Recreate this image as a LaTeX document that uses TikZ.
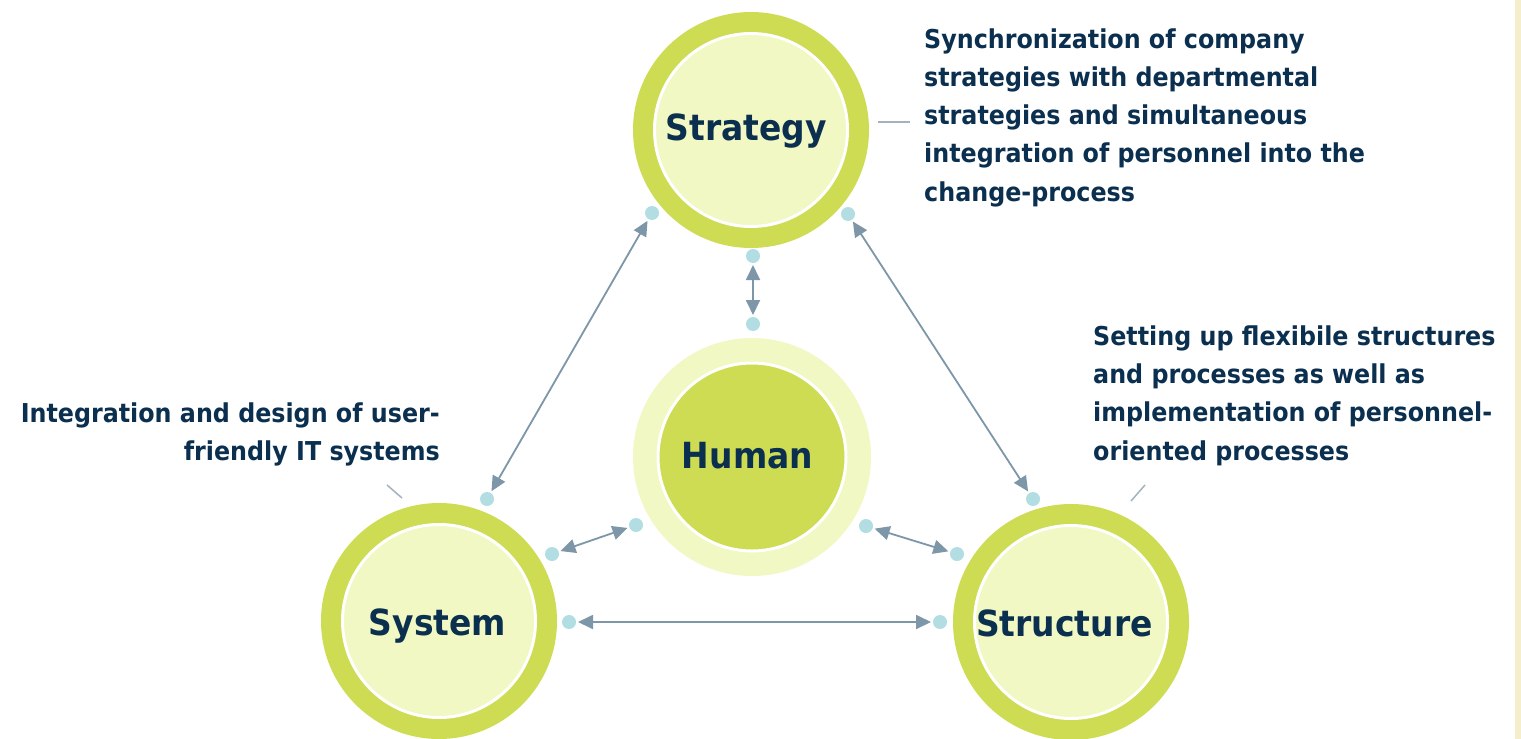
\documentclass[tikz,border=0pt]{standalone}
\usepackage{fontspec}
\newfontfamily\df[FakeStretch=0.915]{DejaVu Sans}
\usetikzlibrary{arrows.meta}
\definecolor{ring}{HTML}{CDDC52}
\definecolor{pale}{HTML}{F1F8C3}
\definecolor{navy}{HTML}{0B2F4F}
\definecolor{dotc}{HTML}{B2DDE3}
\definecolor{arr}{HTML}{7D97A8}
\definecolor{callc}{HTML}{A3B3BD}
\definecolor{strip}{HTML}{F4EECD}
\begin{document}
\begin{tikzpicture}[x=1pt,y=-1pt,
 outerc/.style={circle, inner sep=0pt, outer sep=0pt, minimum size=193pt, fill=pale, draw=white, line width=3pt, preaction={draw=ring, line width=43pt}},
 humanc/.style={circle, inner sep=0pt, outer sep=0pt, minimum size=188pt, fill=ring, draw=white, line width=3pt, preaction={draw=pale, line width=50pt}},
 lbl/.style={font=\df\bfseries\fontsize{36}{40}\selectfont, text=navy, anchor=base, inner sep=0pt},
 txtl/.style={font=\df\bfseries\fontsize{26}{30}\selectfont, text=navy, inner sep=0pt, anchor=base west},
 txtr/.style={font=\df\bfseries\fontsize{26}{30}\selectfont, text=navy, inner sep=0pt, anchor=base east},
 dot/.style={circle, fill=dotc, inner sep=0pt, outer sep=0pt, minimum size=14pt},
 link/.style={draw=arr, line width=1.8pt, {Triangle[length=15pt,width=14pt]}-{Triangle[length=15pt,width=14pt]}, shorten <=2pt, shorten >=2pt},
 callout/.style={draw=callc, line width=1.5pt}
]
\useasboundingbox (0,0) rectangle (1521,739);
\fill[white] (0,0) rectangle (1521,739);
\fill[strip] (1515,0) rectangle (1521,739);

% circles
\node[outerc] (strategy) at (751,130) {};
\node[humanc] (human) at (752,457) {};
\node[outerc] (system) at (439,621) {};
\node[outerc] (structure) at (1071,622) {};

\node[lbl] (strategyL) at (746.5,140) {Strategy};
\node[lbl] (humanL) at (747.5,468) {Human};
\node[lbl] (systemL) at (437.5,635) {System};
\node[lbl] (structureL) at (1064.5,636) {Structure};

% dots
\node[dot] (sa) at (753,256) {};
\node[dot] (ha) at (753,324) {};
\node[dot] (sb) at (652,213) {};
\node[dot] (ya) at (487,499) {};
\node[dot] (sc) at (848,214) {};
\node[dot] (ta) at (1033,499) {};
\node[dot] (hb) at (636,525) {};
\node[dot] (yb) at (552,554) {};
\node[dot] (hc) at (866,526) {};
\node[dot] (tb) at (957,554) {};
\node[dot] (yc) at (569,622) {};
\node[dot] (tc) at (940,622) {};

% connectors
\draw[link] (sa) -- (ha);
\draw[link] (sb) -- (ya);
\draw[link] (sc) -- (ta);
\draw[link] (hb) -- (yb);
\draw[link] (hc) -- (tb);
\draw[link] (yc) -- (tc);

% callout ticks
\coordinate (c1a) at (878,122);
\coordinate (c1b) at (910,122);
\draw[callout] (c1a) -- (c1b);
\coordinate (c2a) at (387,485);
\coordinate (c2b) at (402,498);
\draw[callout] (c2a) -- (c2b);
\coordinate (c3a) at (1145,485);
\coordinate (c3b) at (1131,501);
\draw[callout] (c3a) -- (c3b);

% texts
\node[txtl] (s1) at (924,48) {Synchronization of company};
\node[txtl] (s2) at (924,86.3) {strategies with departmental};
\node[txtl] (s3) at (924,124.5) {strategies and simultaneous};
\node[txtl] (s4) at (924,162.8) {integration of personnel into the};
\node[txtl] (s5) at (924,201) {change-process};

\node[txtl] (t1) at (1093,345) {Setting up flexibile structures};
\node[txtl] (t2) at (1093,383) {and processes as well as};
\node[txtl] (t3) at (1093,421) {implementation of personnel-};
\node[txtl] (t4) at (1093,460) {oriented processes};

\node[txtr] (y1) at (440,422) {Integration and design of user-};
\node[txtr] (y2) at (440,460) {friendly IT systems};
\end{tikzpicture}
\end{document}
